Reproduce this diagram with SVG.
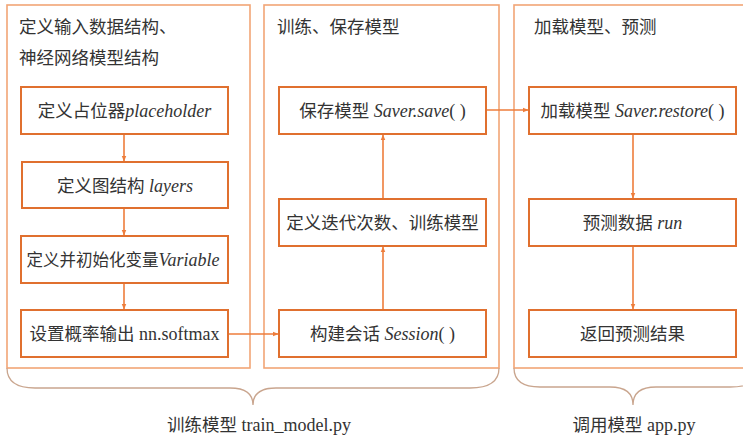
<svg xmlns="http://www.w3.org/2000/svg" width="743" height="437" viewBox="0 0 743 437">
<defs>
<marker id="ah" viewBox="0 0 10 10" refX="9" refY="5" markerWidth="6" markerHeight="6" orient="auto" markerUnits="userSpaceOnUse">
<path d="M0,1 L10,5 L0,9 Z" fill="#ee7d3b"/>
</marker>
<style>
.panel{fill:none;stroke:#f2a576;stroke-width:1.6}
.box{fill:#fff;stroke:#e0702f;stroke-width:2}
.conn{fill:none;stroke:#ee7d3b;stroke-width:1.6}
.brace{fill:none;stroke:#c9a58e;stroke-width:1.3}
text{font-family:"Noto Sans CJK SC",sans-serif;fill:#333;font-size:17.5px}
.c{text-anchor:middle}
.l{font-family:"Liberation Serif",serif;font-size:18px}
.i{font-family:"Liberation Serif",serif;font-style:italic;font-size:18px}
.lbl{font-size:17.5px}
.s{font-size:16.5px}
</style>
</defs>
<rect width="743" height="437" fill="#fff"/>
<g id="panels">
<rect class="panel" x="7" y="5" width="243" height="363"/>
<rect class="panel" x="264" y="5" width="235" height="363"/>
<rect class="panel" x="514" y="5" width="240" height="363"/>
<text x="19" y="33">定义输入数据结构、</text>
<text x="19" y="64">神经网络模型结构</text>
<text x="277" y="33">训练、保存模型</text>
<text x="534" y="33">加载模型、预测</text>
</g>
<g id="connectors">
<line class="conn" x1="124" y1="134" x2="124" y2="161" marker-end="url(#ah)"/>
<line class="conn" x1="124" y1="208" x2="124" y2="235" marker-end="url(#ah)"/>
<line class="conn" x1="124" y1="283" x2="124" y2="309" marker-end="url(#ah)"/>
<line class="conn" x1="228" y1="334" x2="278" y2="334" marker-end="url(#ah)"/>
<line class="conn" x1="383" y1="309" x2="383" y2="247" marker-end="url(#ah)"/>
<line class="conn" x1="383" y1="199" x2="383" y2="135" marker-end="url(#ah)"/>
<line class="conn" x1="486" y1="110" x2="528" y2="110" marker-end="url(#ah)"/>
<line class="conn" x1="633" y1="134" x2="633" y2="198" marker-end="url(#ah)"/>
<line class="conn" x1="633" y1="246" x2="633" y2="309" marker-end="url(#ah)"/>
</g>
<g id="n1"><rect class="box" x="21" y="87" width="207" height="47"/><text class="c" x="124.5" y="117">定义占位器<tspan class="i">placeholder</tspan></text></g>
<g id="n2"><rect class="box" x="22" y="162" width="206" height="46"/><text class="c" x="125" y="192">定义图结构<tspan class="i"> layers</tspan></text></g>
<g id="n3"><rect class="box" x="21" y="236" width="207" height="47"/><text class="c s" x="123" y="266">定义并初始化变量<tspan class="i">Variable</tspan></text></g>
<g id="n4"><rect class="box" x="21" y="310" width="207" height="47"/><text class="c" x="124.5" y="340">设置概率输出<tspan class="l"> nn.softmax</tspan></text></g>
<g id="n5"><rect class="box" x="279" y="87" width="207" height="47"/><text class="c" x="382.5" y="117">保存模型<tspan class="i"> Saver.save</tspan><tspan class="l">( )</tspan></text></g>
<g id="n6"><rect class="box" x="279" y="199" width="207" height="47"/><text class="c" x="382.5" y="229">定义迭代次数、训练模型</text></g>
<g id="n7"><rect class="box" x="279" y="310" width="207" height="47"/><text class="c" x="382.5" y="340">构建会话<tspan class="i"> Session</tspan><tspan class="l">( )</tspan></text></g>
<g id="n8"><rect class="box" x="529" y="87" width="207" height="47"/><text class="c" x="632.5" y="117">加载模型<tspan class="i"> Saver.restore</tspan><tspan class="l">( )</tspan></text></g>
<g id="n9"><rect class="box" x="529" y="199" width="207" height="47"/><text class="c" x="632.5" y="229">预测数据<tspan class="i"> run</tspan></text></g>
<g id="n10"><rect class="box" x="529" y="310" width="207" height="47"/><text class="c" x="632.5" y="340">返回预测结果</text></g>
<g id="braces">
<path class="brace" d="M7,368 Q7,388 35,388 L230,388 Q253,388 253,405 Q253,388 276,388 L470,388 Q499,388 499,368"/>
<path class="brace" d="M514,368 Q514,387 540,387 L610,387 Q633,387 633,405 Q633,387 656,387 L730,387 Q760,387 760,368"/>
<text class="c lbl" x="259" y="431">训练模型<tspan class="l"> train_model.py</tspan></text>
<text class="c lbl" x="634" y="431">调用模型<tspan class="l"> app.py</tspan></text>
</g>
</svg>
